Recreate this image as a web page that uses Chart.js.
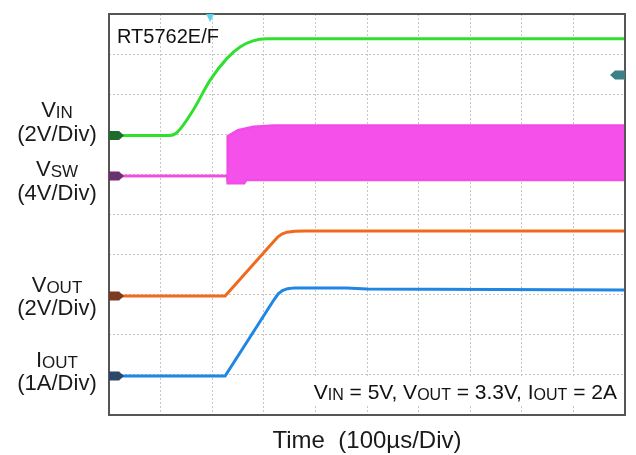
<!DOCTYPE html>
<html>
<head>
<meta charset="utf-8">
<script src="https://cdn.jsdelivr.net/npm/chart.js@4"></script>
<style>
html, body { margin:0; padding:0; background:#fff; }
#wrap { width:636px; height:455px; }
</style>
</head>
<body>
<div id="wrap"><canvas id="scopeChart" width="636" height="455"></canvas></div>
<script>
// ---------------------- 파형 데이터 (단위: div) ----------------------
// VIN (초록)
var vin_t = [0, 1.18, 1.32, 1.63, 1.96, 2.29, 2.54, 2.79, 3.06, 4.0, 10];
var vin_v = [6.97, 6.97, 7.05, 7.6, 8.35, 8.9, 9.18, 9.33, 9.38, 9.38, 9.38];

// VSW (자홍) - 스위칭 구간은 위/아래 포락선으로
var vswH_t = [0, 2.29, 2.30, 2.5, 2.8, 3.2, 10];
var vswH_v = [5.96, 5.96, 6.95, 7.1, 7.19, 7.22, 7.22];
var vswL_t = [0, 2.29, 2.30, 2.62, 2.66, 10];
var vswL_v = [5.96, 5.96, 5.78, 5.78, 5.86, 5.86];

// VOUT (주황)
var vout_t = [0, 2.25, 3.2, 3.28, 3.36, 3.45, 3.6, 3.8, 10];
var vout_v = [2.97, 2.97, 4.34, 4.45, 4.52, 4.56, 4.585, 4.59, 4.59];

// IOUT (파랑)
var iout_t = [0, 2.25, 3.2, 3.28, 3.36, 3.46, 3.6, 4.6, 5.0, 10];
var iout_v = [0.97, 0.97, 2.88, 3.02, 3.1, 3.15, 3.17, 3.17, 3.14, 3.12];

// 채널 라벨
var chNames = [['V', 'IN'], ['V', 'SW'], ['V', 'OUT'], ['I', 'OUT']];
var chScales = ['(2V/Div)', '(4V/Div)', '(2V/Div)', '(1A/Div)'];
var chMarkColors = ['#1f6b2c', '#6e2f6e', '#7a3b22', '#2b4868'];
var trigTime = 1.96;
var trigLevel = 8.48;
var partName = 'RT5762E/F';
var condText = [['V', 0], ['IN', 1], [' = 5V, V', 0], ['OUT', 1], [' = 3.3V, I', 0], ['OUT', 1], [' = 2A', 0]];
var timeLabel = 'Time  (100\u00b5s/Div)';

function pts(t, v) {
	var out = [];
	for (var i = 0; i < t.length; i++) out.push({x: t[i], y: v[i]});
	return out;
}

// 글자 + 아래첨자 그리기
function drawRich(ctx, parts, x, y, align, big, small, drop) {
	var w = 0;
	parts.forEach(function(p){
		ctx.font = (p[1] ? small : big) + 'px "Liberation Sans", Arial, sans-serif';
		w += ctx.measureText(p[0]).width;
	});
	var cx = x;
	if (align == 'center') cx = x - w / 2;
	if (align == 'right') cx = x - w;
	ctx.textAlign = 'left';
	ctx.textBaseline = 'alphabetic';
	parts.forEach(function(p){
		ctx.font = (p[1] ? small : big) + 'px "Liberation Sans", Arial, sans-serif';
		ctx.fillText(p[0], cx, y + (p[1] ? drop : 0));
		cx += ctx.measureText(p[0]).width;
	});
	return w;
}

function richWidth(ctx, parts, big, small) {
	var w = 0;
	parts.forEach(function(p){
		ctx.font = (p[1] ? small : big) + 'px "Liberation Sans", Arial, sans-serif';
		w += ctx.measureText(p[0]).width;
	});
	return w;
}

function tag(ctx, x, y, dir, color) {
	ctx.save();
	ctx.fillStyle = color;
	ctx.beginPath();
	ctx.moveTo(x, y - 4.5);
	ctx.lineTo(x + dir * 10, y - 4.5);
	ctx.lineTo(x + dir * 15, y);
	ctx.lineTo(x + dir * 10, y + 4.5);
	ctx.lineTo(x, y + 4.5);
	ctx.closePath();
	ctx.fill();
	ctx.restore();
}

var scopeDecor = {
	id: 'scopeDecor',
	beforeDraw: function(chart) {
		var ctx = chart.ctx;
		ctx.save();
		ctx.fillStyle = '#fff';
		ctx.fillRect(0, 0, chart.width, chart.height);
		ctx.restore();
	},
	afterDatasetsDraw: function(chart) {
		var ctx = chart.ctx, a = chart.chartArea;
		var xs = chart.scales.x, ys = chart.scales.y;
		ctx.save();

		// 조건 문구 (흰 배경)
		var cw = richWidth(ctx, condText, 21, 16);
		ctx.fillStyle = '#fff';
		ctx.fillRect(617 - cw - 4, 378, cw + 8, 28);
		ctx.fillStyle = '#111';
		drawRich(ctx, condText, 617, 399, 'right', 21, 16, 1);

		// 테두리
		ctx.strokeStyle = '#555';
		ctx.lineWidth = 2;
		ctx.strokeRect(a.left, a.top, a.right - a.left, a.bottom - a.top);

		// 채널 마커
		var base = [vin_v[0], vswH_v[0], vout_v[0], iout_v[0]];
		for (var i = 0; i < base.length; i++) {
			tag(ctx, a.left, ys.getPixelForValue(base[i]), 1, chMarkColors[i]);
		}
		tag(ctx, a.right, ys.getPixelForValue(trigLevel), -1, '#3d7f86');
		// 트리거 위치
		var tx = xs.getPixelForValue(trigTime);
		ctx.fillStyle = '#5cd2ea';
		ctx.beginPath();
		ctx.moveTo(tx - 4, a.top);
		ctx.lineTo(tx + 4, a.top);
		ctx.lineTo(tx, a.top + 8);
		ctx.closePath();
		ctx.fill();

		// 텍스트
		ctx.fillStyle = '#111';
		ctx.font = '20px "Liberation Sans", Arial, sans-serif';
		ctx.textAlign = 'left';
		ctx.fillText(partName, 117, 43);

		ctx.fillStyle = '#1a1a1a';
		var nameY = [117, 176, 292, 367];
		var scaleY = [141, 200, 315, 390];
		for (var j = 0; j < chNames.length; j++) {
			drawRich(ctx, [[chNames[j][0], 0], [chNames[j][1], 1]], 57, nameY[j], 'center', 22, 17, 1);
			ctx.font = '22px "Liberation Sans", Arial, sans-serif';
			ctx.textAlign = 'center';
			ctx.fillText(chScales[j], 57, scaleY[j]);
		}
		ctx.font = '24px "Liberation Sans", Arial, sans-serif';
		ctx.textAlign = 'center';
		ctx.fillText(timeLabel, 367, 448);
		ctx.restore();
	}
};

var ctx = document.getElementById('scopeChart').getContext('2d');
var scopeChart = new Chart(ctx, {
	type: 'line',
	data: {
		datasets: [{
			label: 'VIN',
			data: pts(vin_t, vin_v),
			borderColor: '#2fe02f',
			borderWidth: 3,
			cubicInterpolationMode: 'monotone',
			fill: false
		}, {
			label: 'VSW high',
			data: pts(vswH_t, vswH_v),
			borderColor: '#f04ce6',
			borderWidth: 2.5,
			fill: false
		}, {
			label: 'VSW low',
			data: pts(vswL_t, vswL_v),
			borderColor: '#f04ce6',
			backgroundColor: '#f551ea',
			borderWidth: 2.5,
			fill: '-1'
		}, {
			label: 'VOUT',
			data: pts(vout_t, vout_v),
			borderColor: '#f06a1e',
			borderWidth: 3,
			tension: 0,
			fill: false
		}, {
			label: 'IOUT',
			data: pts(iout_t, iout_v),
			borderColor: '#1f86e3',
			borderWidth: 3,
			tension: 0,
			fill: false
		}]
	},
	options: {
		responsive: false,
		animation: false,
		devicePixelRatio: 1,
		layout: { padding: { left: 109, top: 14, right: 11, bottom: 40 } },
		elements: { point: { radius: 0 } },
		plugins: { legend: { display: false }, tooltip: { enabled: false } },
		scales: {
			x: {
				type: 'linear', min: 0, max: 10,
				ticks: { display: false, stepSize: 1 },
				grid: { color: '#c6c6c6', lineWidth: 1, drawTicks: false },
				border: { display: false, dash: [2, 2] }
			},
			y: {
				type: 'linear', min: 0, max: 10,
				ticks: { display: false, stepSize: 1 },
				grid: { color: '#c6c6c6', lineWidth: 1, drawTicks: false },
				border: { display: false, dash: [2, 2] }
			}
		}
	},
	plugins: [scopeDecor]
});
</script>
</body>
</html>
